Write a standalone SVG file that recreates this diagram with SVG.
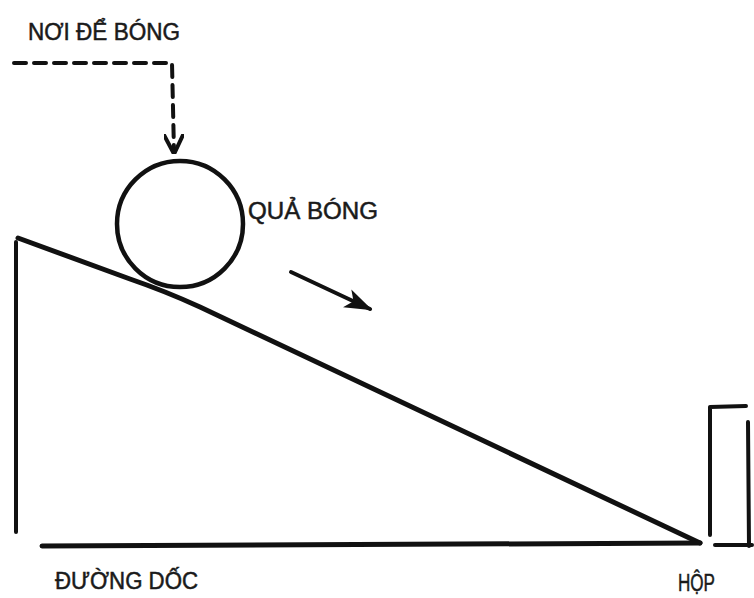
<svg xmlns="http://www.w3.org/2000/svg" width="754" height="598" viewBox="0 0 754 598">
<style>
.t{font-family:"Liberation Sans",Arial,sans-serif;font-size:23px;fill:#1a1a1a;stroke:#1a1a1a;stroke-width:0.5}
.s{stroke:#111;fill:none;stroke-linecap:round;stroke-linejoin:round}
</style>
<defs>
<marker id="vh" viewBox="0 0 10 10" refX="9" refY="5" markerWidth="5" markerHeight="5" orient="auto">
<path d="M0,0 L10,5 L0,10" fill="none" stroke="#111" stroke-width="2"/>
</marker>
<marker id="fh" viewBox="0 0 10 10" refX="9" refY="5" markerWidth="7" markerHeight="7" orient="auto">
<path d="M0,1.5 L10,5 L0,8.5 L2.5,5 Z" fill="#111"/>
</marker>
</defs>
<rect width="754" height="598" fill="#fff"/>
<g id="place-label"><text class="t" x="28" y="40" textLength="152" lengthAdjust="spacingAndGlyphs">NƠI ĐỂ BÓNG</text></g>
<g id="ball">
<circle cx="180" cy="224" r="63" class="s" stroke-width="4.5"/>
<text class="t" x="248" y="219" textLength="130" lengthAdjust="spacingAndGlyphs">QUẢ BÓNG</text>
</g>
<g id="ramp">
<path class="s" d="M18,238 L130,279 Q165,291 200,307 L700,543" stroke-width="5"/>
<path class="s" d="M16,242 L16,532" stroke-width="4"/>
<path class="s" d="M42,546 L700,543" stroke-width="5"/>
<text class="t" x="55" y="589" textLength="143" lengthAdjust="spacingAndGlyphs">ĐƯỜNG DỐC</text>
</g>
<g id="box">
<path class="s" d="M710,535 L710,407 L746,406" stroke-width="4"/>
<path class="s" d="M748,422 L749,546" stroke-width="4"/>
<path class="s" d="M715,545 L752,545" stroke-width="4"/>
<text class="t" x="678" y="591" textLength="37" lengthAdjust="spacingAndGlyphs">HỘP</text>
</g>
<g id="connectors">
<path class="s" d="M14,63 L172,63 L174,152" stroke-width="4" stroke-dasharray="12,8" marker-end="url(#vh)"/>
<path class="s" d="M291,272 L370,309" stroke-width="4" marker-end="url(#fh)"/>
</g>
</svg>
